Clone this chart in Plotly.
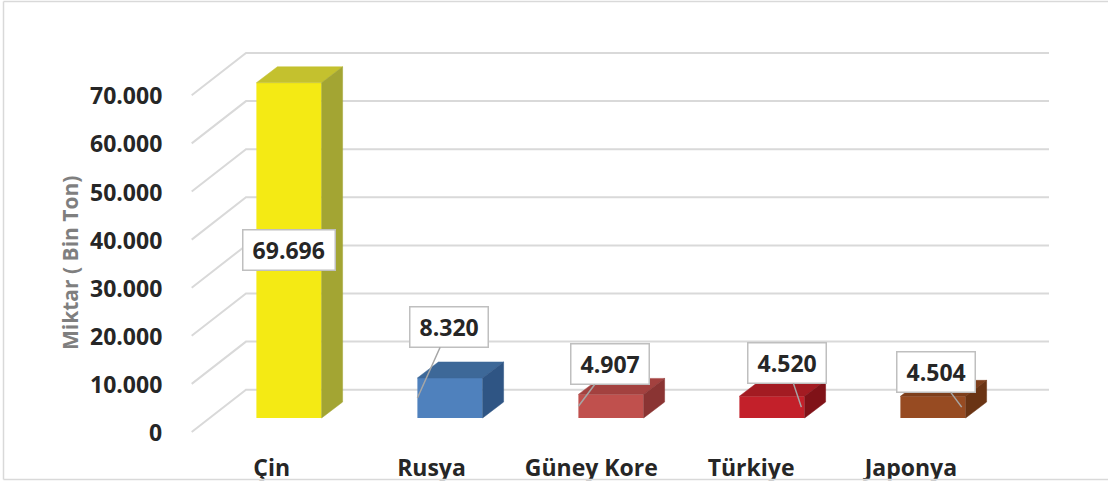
import plotly.graph_objects as go

# ---------------- data ----------------
categories = ["Çin", "Rusya", "Güney Kore", "Türkiye", "Japonya"]
values = [69696, 8320, 4907, 4520, 4504]
tick_values = [0, 10000, 20000, 30000, 40000, 50000, 60000, 70000]
y_title = "Miktar ( Bin Ton)"

# ---------------- styles ----------------
front_colors = ["#F4EA14", "#4F81BD", "#C0504D", "#C3202A", "#974B22"]
top_colors = ["#C4C12E", "#3D6898", "#A3413F", "#A31B22", "#7E3F1C"]
side_colors = ["#A3A533", "#2F5584", "#8A3433", "#801218", "#6A3414"]
GRID = "#D9D9D9"
TXT = "#262626"
FONT = "Open Sans"

W, H = 1108, 485
X0_PX, XSTEP_PX = 289.0, 161.0       # pixel of category 0 and spacing
Y0_PX, PX_PER_UNIT = 418.0, 48.1 / 10000.0


def ux(px):
    return px / XSTEP_PX


def uy(px):
    return px / PX_PER_UNIT


def fmt(v):
    return f"{v:,}".replace(",", ".")


HW = ux(32.6)      # half bar width
DX = ux(21.0)      # depth x
DY = uy(16.0)      # depth y

fig = go.Figure()

# ---- front faces ----
xs = list(range(len(categories)))
fig.add_trace(go.Bar(x=xs, y=values, width=2 * HW,
                     marker=dict(color=front_colors, line=dict(width=0)),
                     hoverinfo="skip"))

# ---- top and side faces ----
for i, v in enumerate(values):
    tx = [i - HW, i + HW, i + HW + DX, i - HW + DX, i - HW]
    ty = [v, v, v + DY, v + DY, v]
    fig.add_trace(go.Scatter(x=tx, y=ty, mode="lines", fill="toself",
                             fillcolor=top_colors[i],
                             line=dict(color=top_colors[i], width=0.5),
                             hoverinfo="skip"))
    sx = [i + HW, i + HW + DX, i + HW + DX, i + HW, i + HW]
    sy = [0, DY, v + DY, v, 0]
    fig.add_trace(go.Scatter(x=sx, y=sy, mode="lines", fill="toself",
                             fillcolor=side_colors[i],
                             line=dict(color=side_colors[i], width=0.5),
                             hoverinfo="skip"))

# ---- category labels (front plane) ----
cat_x = [ux(271.7 + 159.8 * i - X0_PX) for i in xs]
fig.add_trace(go.Scatter(x=cat_x, y=[uy(Y0_PX - 470)] * len(xs), mode="text",
                         text=categories,
                         textfont=dict(family=FONT, size=23, color=TXT,
                                       weight="bold"),
                         textposition="middle center", hoverinfo="skip"))

shapes = []
# ---- gridlines (wall), drawn below the traces ----
front_x, back_x, end_x = ux(191.7 - X0_PX), ux(246 - X0_PX), ux(1049 - X0_PX)
front_off, back_off = uy(Y0_PX - 432), uy(Y0_PX - 389.7)
for t in tick_values:
    path = (f"M {front_x},{t + front_off} L {back_x},{t + back_off} "
            f"L {end_x},{t + back_off}")
    shapes.append(dict(type="path", xref="x", yref="y", path=path,
                       line=dict(color=GRID, width=2), layer="below"))

annotations = []
# ---- y tick labels ----
for t in tick_values:
    annotations.append(dict(x=ux(164 - X0_PX), y=t + front_off, text=fmt(t),
                            showarrow=False, xanchor="right", yanchor="middle",
                            font=dict(family=FONT, size=23, color=TXT,
                                      weight="bold")))

# ---- data labels ----
anchor_dx = [0, -1.0, -1.0, 0.9, 0.88]          # fraction of half width
label_offsets = [None, (31.8, -71), (31.5, -42), (-14.7, -44), (-26, -35)]
for i, v in enumerate(values):
    txt = fmt(v)
    ndig = sum(c.isdigit() for c in txt)
    box_w = 13.2 * ndig + 6.5 + 10
    common = dict(text=txt, font=dict(family=FONT, size=23, color=TXT,
                                      weight="bold"),
                  bgcolor="white", bordercolor="#BFBFBF", borderwidth=1.5,
                  borderpad=4, width=box_w, height=31)
    if label_offsets[i] is None:
        annotations.append(dict(x=i, y=v / 2, showarrow=False,
                                xanchor="center", yanchor="middle", **common))
    else:
        ax, ay = label_offsets[i]
        annotations.append(dict(x=i + anchor_dx[i] * HW, y=v / 2,
                                showarrow=True, arrowhead=0, arrowwidth=1.5,
                                arrowcolor="#A6A6A6", ax=ax, ay=ay,
                                standoff=0, **common))

# ---- axis title ----
annotations.append(dict(xref="paper", yref="paper", x=70 / W, y=1 - 263 / H,
                        text=y_title, textangle=-90, showarrow=False,
                        xanchor="center", yanchor="middle",
                        font=dict(family=FONT, size=21, color="#7F7F7F",
                                  weight="bold")))


# ---- frame ----
def py(p):
    return 1 - p / H


shapes += [
    dict(type="rect", xref="paper", yref="paper", x0=0, x1=1,
         y0=0, y1=py(480.3), fillcolor="white", line=dict(width=0),
         layer="above"),
    dict(type="line", xref="paper", yref="paper", x0=3.5 / W, x1=1,
         y0=py(1.5), y1=py(1.5), line=dict(color=GRID, width=1.5),
         layer="above"),
    dict(type="line", xref="paper", yref="paper", x0=3.5 / W, x1=3.5 / W,
         y0=py(1.5), y1=py(479.5), line=dict(color=GRID, width=1.5),
         layer="above"),
    dict(type="line", xref="paper", yref="paper", x0=3.5 / W, x1=1,
         y0=py(479.5), y1=py(479.5), line=dict(color=GRID, width=1.5),
         layer="above"),
]

fig.update_layout(
    width=W, height=H,
    margin=dict(l=0, r=0, t=0, b=0, pad=0),
    paper_bgcolor="white", plot_bgcolor="white",
    showlegend=False, hovermode=False,
    xaxis=dict(range=[-X0_PX / XSTEP_PX, (W - X0_PX) / XSTEP_PX],
               visible=False, fixedrange=True),
    yaxis=dict(range=[-(H - Y0_PX) / PX_PER_UNIT, Y0_PX / PX_PER_UNIT],
               visible=False, fixedrange=True),
    annotations=annotations,
    shapes=shapes,
)

fig.write_html("out.html", config={"displayModeBar": False},
               post_script="document.body.style.margin='0';"
                           "document.body.style.overflow='hidden';")
